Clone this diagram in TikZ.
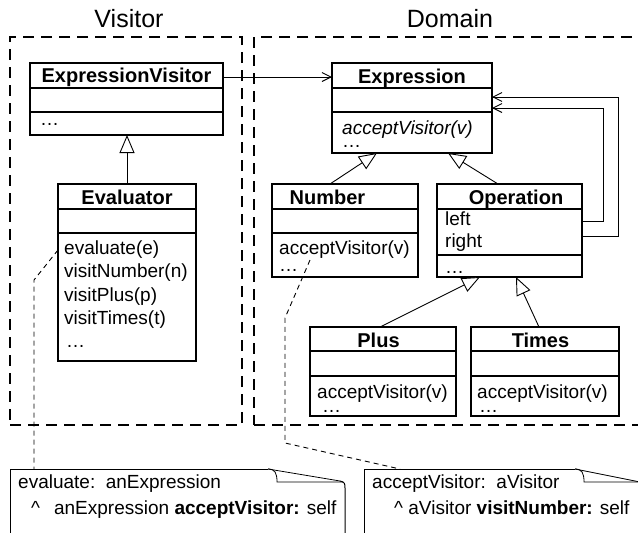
\documentclass[tikz,border=0pt]{standalone}
\usepackage{fontspec}
\setmainfont{Liberation Sans}
\usetikzlibrary{arrows.meta,calc}
\newcommand{\twolines}[3]{\vtop{\baselineskip=#1\lineskiplimit=-20pt\hbox{#2}\hbox{#3}}}
\begin{document}
\begin{tikzpicture}[x=1pt,y=-1pt,
  box/.style={draw, line width=1.1pt, inner sep=0pt, outer sep=0pt, anchor=north west},
  divider/.style={line width=1.1pt},
  cname/.style={font=\fontsize{20}{24}\selectfont\bfseries, inner sep=0pt, anchor=base},
  mtext/.style={font=\fontsize{19}{23}\selectfont, inner sep=0pt, anchor=base west},
  grp/.style={draw, line width=2pt, dash pattern=on 11pt off 7pt, inner sep=0pt, outer sep=0pt, anchor=north west},
  gtitle/.style={font=\fontsize{25}{30}\selectfont, inner sep=0pt, anchor=base},
  assoc/.style={draw, line width=0.9pt, -{Straight Barb[length=9pt,width=9pt]}},
  gen/.style={draw, line width=0.9pt, -{Triangle[fill=white, length=18pt, width=15pt]}},
  noteline/.style={draw, line width=0.9pt, dash pattern=on 5pt off 4pt},
  noteedge/.style={draw, line width=1pt},
  foldline/.style={draw, line width=0.8pt},
]
\useasboundingbox (0,0) rectangle (638,533);
\fill[white] (0,0) rectangle (638,533);

% groups
\node[grp, minimum width=232pt, minimum height=388pt] (gvis) at (10,37) {};
\node[grp, minimum width=400pt, minimum height=388pt] (gdom) at (254,37) {};
\node[gtitle] (tvis) at (129,27) {Visitor};
\node[gtitle] (tdom) at (450,27) {Domain};

% ExpressionVisitor
\node[box, minimum width=193pt, minimum height=72pt] (ev) at (30,63) {};
\draw[divider] ([yshift=-25pt]ev.north west) -- ([yshift=-25pt]ev.north east);
\draw[divider] ([yshift=-49pt]ev.north west) -- ([yshift=-49pt]ev.north east);
\node[cname] (evt) at ([yshift=-19pt]ev.north) {ExpressionVisitor};
\node[mtext] (evm) at ([xshift=10pt,yshift=-62pt]ev.north west) {\dots};

% Expression
\node[box, minimum width=160pt, minimum height=90pt] (expr) at (332,63) {};
\draw[divider] ([yshift=-25pt]expr.north west) -- ([yshift=-25pt]expr.north east);
\draw[divider] ([yshift=-49pt]expr.north west) -- ([yshift=-49pt]expr.north east);
\node[cname] (exprt) at ([yshift=-20pt]expr.north) {Expression};
\node[mtext] (exprm) at ([xshift=10pt,yshift=-71pt]expr.north west) {\twolines{13pt}{\itshape acceptVisitor(v)}{\dots}};

% Evaluator
\node[box, minimum width=138pt, minimum height=177pt] (eva) at (58,184) {};
\draw[divider] ([yshift=-25pt]eva.north west) -- ([yshift=-25pt]eva.north east);
\draw[divider] ([yshift=-49pt]eva.north west) -- ([yshift=-49pt]eva.north east);
\node[cname] (evat) at ([yshift=-20pt]eva.north) {Evaluator};
\node[mtext] (evam1) at ([xshift=6pt,yshift=-70pt]eva.north west) {evaluate(e)};
\node[mtext] (evam2) at ([xshift=6pt,yshift=-93pt]eva.north west) {visitNumber(n)};
\node[mtext] (evam3) at ([xshift=6pt,yshift=-117pt]eva.north west) {visitPlus(p)};
\node[mtext] (evam4) at ([xshift=6pt,yshift=-140pt]eva.north west) {visitTimes(t)};
\node[mtext] (evam5) at ([xshift=8pt,yshift=-163pt]eva.north west) {\dots};

% Number
\node[box, minimum width=146pt, minimum height=93pt] (num) at (272,184) {};
\draw[divider] ([yshift=-25pt]num.north west) -- ([yshift=-25pt]num.north east);
\draw[divider] ([yshift=-49pt]num.north west) -- ([yshift=-49pt]num.north east);
\node[cname] (numt) at ([xshift=55.5pt,yshift=-20pt]num.north west) {Number};
\node[mtext] (numm1) at ([xshift=7pt,yshift=-70pt]num.north west) {acceptVisitor(v)};
\node[mtext] (numm2) at ([xshift=7pt,yshift=-87pt]num.north west) {\dots};

% Operation
\node[box, minimum width=145pt, minimum height=93pt] (op) at (437,184) {};
\draw[divider] ([yshift=-25pt]op.north west) -- ([yshift=-25pt]op.north east);
\draw[divider] ([yshift=-71pt]op.north west) -- ([yshift=-71pt]op.north east);
\node[cname] (opt) at ([xshift=79pt,yshift=-20pt]op.north west) {Operation};
\node[mtext] (opa1) at ([xshift=8pt,yshift=-41pt]op.north west) {left};
\node[mtext] (opa2) at ([xshift=8pt,yshift=-63pt]op.north west) {right};
\node[mtext] (opm1) at ([xshift=8pt,yshift=-89pt]op.north west) {\dots};

% Plus
\node[box, minimum width=146pt, minimum height=89pt] (plus) at (310,327) {};
\draw[divider] ([yshift=-24pt]plus.north west) -- ([yshift=-24pt]plus.north east);
\draw[divider] ([yshift=-49pt]plus.north west) -- ([yshift=-49pt]plus.north east);
\node[cname] (plust) at ([xshift=68.5pt,yshift=-20pt]plus.north west) {Plus};
\node[mtext] (plusm) at ([xshift=7pt,yshift=-71pt]plus.north west) {\twolines{14pt}{acceptVisitor(v)}{\hspace{5pt}\dots}};

% Times
\node[box, minimum width=148pt, minimum height=89pt] (times) at (471,327) {};
\draw[divider] ([yshift=-24pt]times.north west) -- ([yshift=-24pt]times.north east);
\draw[divider] ([yshift=-49pt]times.north west) -- ([yshift=-49pt]times.north east);
\node[cname] (timest) at ([xshift=69.5pt,yshift=-20pt]times.north west) {Times};
\node[mtext] (timesm) at ([xshift=6pt,yshift=-71pt]times.north west) {\twolines{14pt}{acceptVisitor(v)}{\hspace{2pt}\dots}};

% associations
\draw[assoc] ([yshift=-14pt]ev.north east) -- ([yshift=-14pt]expr.north west);
\draw[assoc] ([yshift=-37pt]op.north east) -- ++(21,0) |- ([yshift=-45pt]expr.north east);
\draw[assoc] ([yshift=-52pt]op.north east) -- ++(36,0) |- ([yshift=-34pt]expr.north east);

% generalizations
\draw[gen] (eva.north) -- (eva.north |- ev.south);
\draw[gen] ([xshift=58pt]num.north west) -- ([xshift=45pt]expr.south west);
\draw[gen] ([xshift=61pt]op.north west) -- ([xshift=116pt]expr.south west);
\draw[gen] ([xshift=70pt]plus.north west) -- ([xshift=43pt]op.south west);
\draw[gen] ([xshift=68pt]times.north west) -- ([xshift=79pt]op.south west);

% notes
\draw[noteedge] (10,545) -- (10,469) -- (268,469);
\draw[foldline] (268,469) .. controls (275,469) and (277,473) .. (277,482) -- (343,482);
\draw[foldline] (268,469) -- (340,481);
\draw[noteedge] (340,481) .. controls (345,482) and (345,484) .. (345,488) -- (345,545);
\node[mtext] (ln1) at (18,488) {evaluate:\ \ anExpression};
\node[mtext] (ln2) at (31,514) {\textasciicircum\hspace{14pt}anExpression \textbf{acceptVisitor:} self};

\draw[noteedge] (364,545) -- (364,469) -- (575,469);
\draw[foldline] (575,469) .. controls (582,469) and (584,473) .. (584,482) -- (650,482);
\draw[foldline] (575,469) -- (650,484);
\node[mtext] (rn1) at (372,488) {acceptVisitor:\ \ aVisitor};
\node[mtext] (rn2) at (394,514) {\textasciicircum\ aVisitor \textbf{visitNumber:} self};

% note connectors
\coordinate (la1) at (34,280);
\coordinate (la2) at (34,469);
\draw[noteline] ([yshift=-66pt]eva.north west) -- (la1) -- (la2);
\coordinate (ra1) at (285,318);
\coordinate (ra2) at (285,443);
\coordinate (ra3) at (400,469);
\draw[noteline] ([xshift=38pt,yshift=-76pt]num.north west) -- (ra1) -- (ra2) -- (ra3);
\end{tikzpicture}
\end{document}
